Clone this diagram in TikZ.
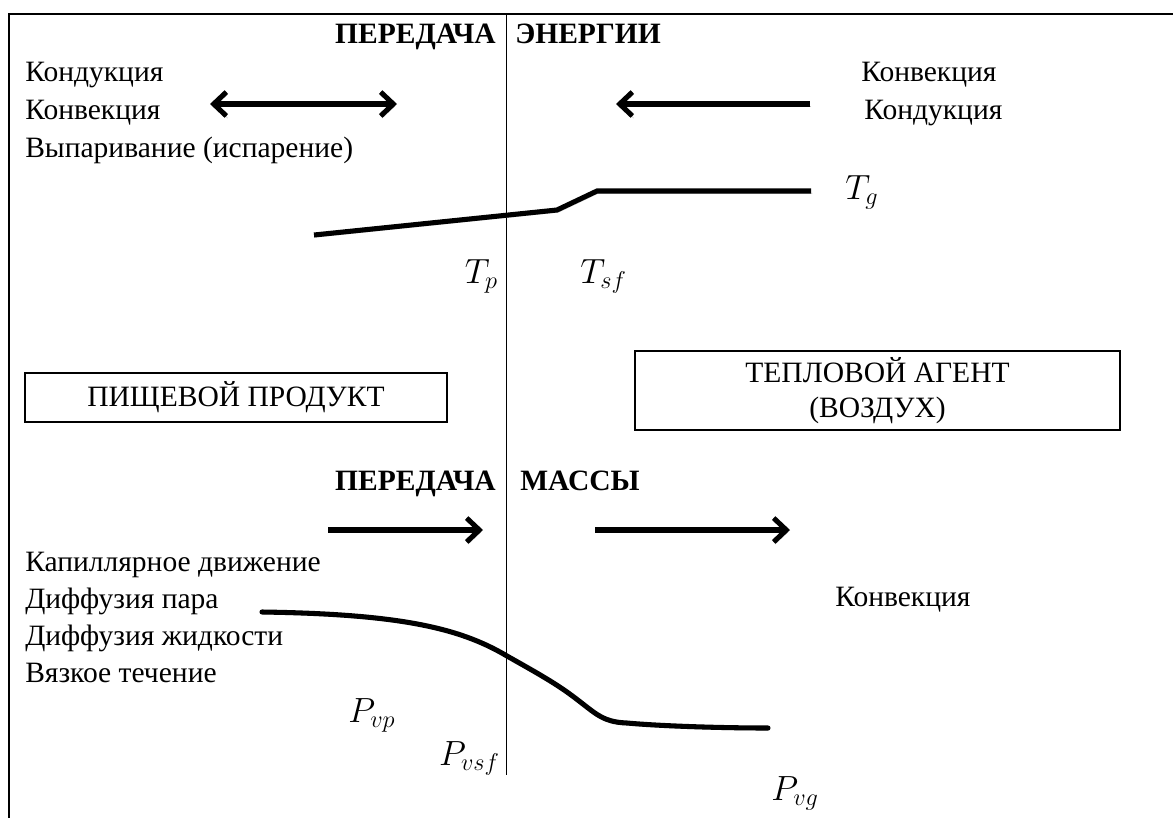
\documentclass[tikz,border=0pt]{standalone}
\usepackage{fontspec}
\setmainfont{Liberation Serif}
\usetikzlibrary{
  arrows.meta,
  positioning,
  calc
}
\tikzset{
  label/.style={inner sep=0pt, font=\fontsize{21}{25}\selectfont, anchor=base west},
  heading/.style={inner sep=0pt, font=\fontsize{21}{25}\selectfont\bfseries},
  quantity/.style={inner sep=0pt, font=\fontsize{24}{28}\selectfont},
  medium/.style={
    rectangle, draw, line width=1.4pt, align=center,
    font=\fontsize{21}{25}\selectfont, inner sep=0pt
  },
  flow/.style={
    line width=3.6pt, -{Straight Barb[length=9pt, width=17pt]},
    preaction={draw=black!22, transform canvas={shift={(1pt,-1.6pt)}}}
  },
  dualflow/.style={flow, {Straight Barb[length=9pt, width=17pt]}-{Straight Barb[length=9pt, width=17pt]}},
  profile/.style={line width=3.6pt,
    preaction={draw=black!22, transform canvas={shift={(1pt,-1.6pt)}}}},
}

\begin{document}
\begin{tikzpicture}[x=0.025cm, y=-0.025cm]
\useasboundingbox (0,0) rectangle (1173,818);

% Frame and interface
\draw[line width=1.4pt] (1173,14) -- (9,14) -- (9,818);
\draw[line width=0.7pt] (506,14) -- (506,775);

% Energy transfer
\node[heading, anchor=base east] (heatL) at (496,43) {ПЕРЕДАЧА};
\node[heading, anchor=base west] (heatR) at (515,43) {ЭНЕРГИИ};
\node[label] (condA) at (25,81) {Кондукция};
\node[label] (convA) at (25,119) {Конвекция};
\node[label] (evap) at (25,157) {Выпаривание (испарение)};
\node[label] (convB) at (861,81) {Конвекция};
\node[label] (condB) at (864,119) {Кондукция};

\coordinate (dualL) at (210,104);
\coordinate (dualR) at (397,104);
\coordinate (gasIn) at (810,104);
\coordinate (gasTip) at (616,104);
\draw[dualflow] (dualL) -- (dualR);
\draw[flow] (gasIn) -- (gasTip);

% Temperature profile
\coordinate (tp0) at (314,235);
\coordinate (tp1) at (557,210);
\coordinate (tp2) at (597,191);
\coordinate (tp3) at (811,191);
\draw[profile] (tp0) -- (tp1) -- (tp2) -- (tp3);
\node[quantity, anchor=base west] (Tg) at (845,199) {$T_g$};
\node[quantity, anchor=base east] (Tp) at (498,283) {$T_p$};
\node[quantity, anchor=base west] (Tsf) at (580,283) {$T_{sf}$};

% Media
\node[medium, minimum width=422*0.025cm, minimum height=49*0.025cm] (food) at (236,397.5) {ПИЩЕВОЙ ПРОДУКТ};
\node[medium, minimum width=485*0.025cm, minimum height=79*0.025cm] (air) at (877.5,390.5) {ТЕПЛОВОЙ АГЕНТ\\(ВОЗДУХ)};

% Mass transfer
\node[heading, anchor=base east] (massL) at (496,490) {ПЕРЕДАЧА};
\node[heading, anchor=base west] (massR) at (520,490) {МАССЫ};
\coordinate (moistIn) at (328,530);
\coordinate (moistTip) at (483,530);
\coordinate (vapIn) at (595,530);
\coordinate (vapTip) at (790,530);
\draw[flow] (moistIn) -- (moistTip);
\draw[flow] (vapIn) -- (vapTip);
\node[label] (capil) at (25,571) {Капиллярное движение};
\node[label] (vdiff) at (25,608) {Диффузия пара};
\node[label] (ldiff) at (25,645) {Диффузия жидкости};
\node[label] (visc) at (25,682) {Вязкое течение};
\node[label] (convC) at (835,606) {Конвекция};

% Vapour pressure profile
\coordinate (pv0) at (262,612);
\coordinate (pv1) at (507,656);
\coordinate (pv2) at (567,692);
\coordinate (pv3) at (627,723);
\coordinate (pv4) at (768,728);
\draw[profile, line cap=round] (pv0) .. controls (400,614) and (460,628) .. (pv1)
  .. controls (530,669) and (550,680) .. (pv2)
  .. controls (595,712) and (600,722) .. (pv3)
  .. controls (660,726) and (720,728) .. (pv4);
\node[quantity, anchor=base west] (Pvp) at (348,722) {$P_{vp}$};
\node[quantity, anchor=base east] (Pvsf) at (500,765) {$P_{vsf}$};
\node[quantity, anchor=base west] (Pvg) at (771,800) {$P_{vg}$};

\end{tikzpicture}
\end{document}
